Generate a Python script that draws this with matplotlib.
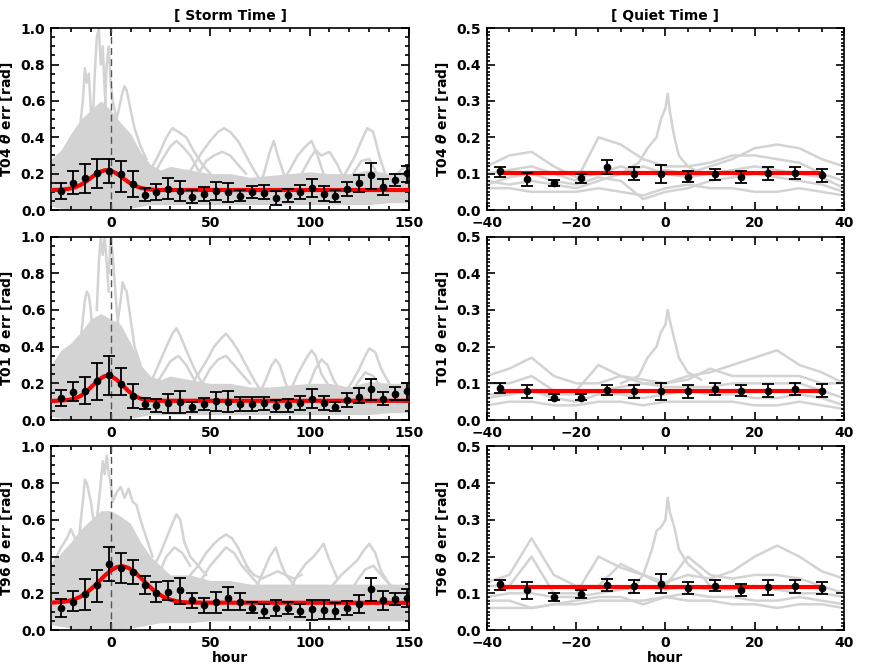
import matplotlib
matplotlib.use("Agg")
import matplotlib.pyplot
import matplotlib.ticker
import numpy

# ---- storm time (hours from storm onset) ----
storm_x = [-25, -19, -13, -7, -1, 5, 11, 17, 23, 29, 35, 41, 47, 53, 59,
           65, 71, 77, 83, 89, 95, 101, 107, 113, 119, 125, 131, 137, 143, 149]

storm_t04 = [0.106, 0.150, 0.178, 0.204, 0.217, 0.196, 0.145, 0.084, 0.101, 0.117,
             0.106, 0.073, 0.090, 0.105, 0.099, 0.079, 0.097, 0.095, 0.068, 0.081,
             0.099, 0.121, 0.090, 0.079, 0.116, 0.147, 0.193, 0.125, 0.165, 0.202]
storm_t04_lo = [0.061, 0.088, 0.095, 0.123, 0.150, 0.101, 0.072, 0.050, 0.057, 0.062,
                0.050, 0.040, 0.050, 0.053, 0.046, 0.048, 0.064, 0.059, 0.029, 0.044,
                0.062, 0.073, 0.048, 0.044, 0.075, 0.101, 0.114, 0.083, 0.134, 0.154]
storm_t04_hi = [0.150, 0.213, 0.253, 0.283, 0.279, 0.272, 0.215, 0.119, 0.143, 0.174,
                0.161, 0.108, 0.128, 0.156, 0.150, 0.112, 0.130, 0.136, 0.106, 0.114,
                0.138, 0.172, 0.134, 0.112, 0.156, 0.193, 0.257, 0.172, 0.196, 0.244]

storm_t01 = [0.122, 0.153, 0.159, 0.212, 0.243, 0.197, 0.133, 0.088, 0.080, 0.091,
             0.099, 0.069, 0.086, 0.102, 0.100, 0.089, 0.088, 0.091, 0.078, 0.080,
             0.093, 0.117, 0.093, 0.073, 0.111, 0.128, 0.168, 0.115, 0.142, 0.157]
storm_t01_lo = [0.078, 0.102, 0.086, 0.108, 0.139, 0.139, 0.068, 0.058, 0.046, 0.036,
                0.040, 0.044, 0.055, 0.051, 0.042, 0.051, 0.049, 0.055, 0.042, 0.044,
                0.055, 0.064, 0.053, 0.047, 0.073, 0.091, 0.109, 0.080, 0.109, 0.109]
storm_t01_hi = [0.166, 0.210, 0.232, 0.312, 0.347, 0.286, 0.195, 0.119, 0.117, 0.144,
                0.157, 0.100, 0.119, 0.151, 0.157, 0.128, 0.124, 0.128, 0.111, 0.115,
                0.133, 0.168, 0.133, 0.100, 0.150, 0.173, 0.224, 0.151, 0.182, 0.201]

storm_t96 = [0.119, 0.153, 0.195, 0.245, 0.358, 0.336, 0.316, 0.243, 0.204, 0.208,
             0.217, 0.161, 0.135, 0.151, 0.172, 0.155, 0.122, 0.104, 0.119, 0.120,
             0.106, 0.113, 0.111, 0.102, 0.120, 0.142, 0.223, 0.161, 0.168, 0.172]
storm_t96_lo = [0.069, 0.104, 0.109, 0.155, 0.265, 0.254, 0.250, 0.195, 0.150, 0.161,
                0.144, 0.119, 0.095, 0.095, 0.109, 0.108, 0.095, 0.068, 0.075, 0.088,
                0.071, 0.057, 0.058, 0.060, 0.084, 0.093, 0.159, 0.108, 0.137, 0.128]
storm_t96_hi = [0.168, 0.215, 0.279, 0.327, 0.453, 0.420, 0.383, 0.292, 0.259, 0.268,
                0.283, 0.201, 0.177, 0.208, 0.234, 0.201, 0.155, 0.142, 0.166, 0.150,
                0.142, 0.166, 0.162, 0.146, 0.157, 0.192, 0.286, 0.215, 0.203, 0.224]

# red fitted curves
storm_fit_x = [-30, -27, -24, -21, -18, -15, -12, -9, -6, -3, 0, 3, 6, 9, 12,
               15, 18, 21, 24, 27, 30, 33, 36, 40, 150]
storm_fit_t04 = [0.110, 0.111, 0.113, 0.117, 0.125, 0.139, 0.160, 0.185, 0.207, 0.219,
                 0.217, 0.201, 0.177, 0.153, 0.134, 0.122, 0.115, 0.112, 0.110, 0.110,
                 0.110, 0.110, 0.110, 0.110, 0.110]
storm_fit_t01 = [0.105, 0.105, 0.107, 0.110, 0.117, 0.132, 0.157, 0.189, 0.220, 0.240,
                 0.240, 0.220, 0.189, 0.157, 0.132, 0.117, 0.110, 0.107, 0.105, 0.105,
                 0.105, 0.105, 0.105, 0.105, 0.105]
storm_fit_t96 = [0.149, 0.151, 0.153, 0.159, 0.168, 0.183, 0.204, 0.232, 0.264, 0.296,
                 0.324, 0.343, 0.348, 0.338, 0.316, 0.286, 0.253, 0.222, 0.197, 0.178,
                 0.165, 0.157, 0.152, 0.149, 0.148]

# dense grey region of the individual storm events
storm_band_x = [-30, -25, -20, -15, -10, -5, 0, 5, 10, 15, 20, 25, 30, 40, 50,
                60, 70, 80, 90, 100, 110, 120, 130, 140, 150]
storm_band_t04_lo = [0.02, 0.01, 0.0, 0.0, 0.0, 0.0, 0.0, 0.0, 0.01, 0.02, 0.03, 0.03, 0.03,
                     0.03, 0.03, 0.03, 0.03, 0.03, 0.03, 0.03, 0.03, 0.03, 0.03, 0.04, 0.04]
storm_band_t04_hi = [0.28, 0.33, 0.42, 0.5, 0.55, 0.6, 0.55, 0.48, 0.42, 0.32, 0.25, 0.22, 0.24,
                     0.22, 0.2, 0.2, 0.18, 0.19, 0.2, 0.21, 0.2, 0.2, 0.22, 0.2, 0.22]
storm_band_t01_lo = [0.02, 0.01, 0.0, 0.0, 0.0, 0.0, 0.0, 0.0, 0.01, 0.02, 0.03, 0.03, 0.03,
                     0.03, 0.03, 0.03, 0.03, 0.03, 0.03, 0.03, 0.03, 0.03, 0.03, 0.04, 0.04]
storm_band_t01_hi = [0.3, 0.38, 0.42, 0.48, 0.55, 0.58, 0.55, 0.52, 0.42, 0.3, 0.24, 0.22, 0.24,
                     0.22, 0.2, 0.2, 0.18, 0.18, 0.19, 0.2, 0.2, 0.18, 0.21, 0.2, 0.2]
storm_band_t96_lo = [0.03, 0.02, 0.01, 0.0, 0.0, 0.0, 0.0, 0.0, 0.01, 0.02, 0.03, 0.04, 0.04,
                     0.04, 0.05, 0.05, 0.05, 0.05, 0.05, 0.05, 0.05, 0.05, 0.05, 0.05, 0.05]
storm_band_t96_hi = [0.35, 0.42, 0.48, 0.55, 0.6, 0.65, 0.65, 0.62, 0.58, 0.48, 0.4, 0.35, 0.3,
                     0.3, 0.27, 0.27, 0.25, 0.25, 0.25, 0.25, 0.25, 0.25, 0.25, 0.25, 0.25]

# individual storm event traces standing out of the grey cloud
storm_traces_t04 = [
    ([-16, -14, -13, -12, -11, -10, -9], [0.4, 0.6, 0.78, 0.7, 0.75, 0.55, 0.45]),
    ([-9, -8, -7, -6, -5, -4, -3, -2], [0.5, 0.75, 0.95, 1.0, 0.8, 0.9, 0.65, 0.5]),
    ([-3, -2, -1, 0, 1, 2, 3], [0.55, 0.8, 0.9, 0.7, 0.6, 0.55, 0.5]),
    ([2, 4, 6, 7, 8, 10, 12, 15, 18], [0.45, 0.55, 0.65, 0.68, 0.66, 0.55, 0.45, 0.35, 0.28]),
    ([20, 24, 28, 31, 34, 38, 42, 46, 50], [0.22, 0.3, 0.4, 0.45, 0.43, 0.4, 0.32, 0.25, 0.2]),
    ([22, 26, 30, 33, 36, 40, 44], [0.2, 0.28, 0.35, 0.38, 0.35, 0.3, 0.22]),
    ([38, 42, 46, 50, 54, 57, 60, 64, 68, 72, 76], [0.18, 0.25, 0.32, 0.38, 0.43, 0.45, 0.43, 0.38, 0.3, 0.22, 0.15]),
    ([44, 48, 52, 56, 60, 64, 68], [0.2, 0.27, 0.3, 0.32, 0.3, 0.25, 0.2]),
    ([74, 77, 80, 82, 84, 87, 90], [0.1, 0.2, 0.32, 0.38, 0.3, 0.2, 0.12]),
    ([86, 90, 94, 98, 101, 104, 107], [0.15, 0.22, 0.3, 0.35, 0.38, 0.3, 0.2]),
    ([92, 96, 100, 103, 106, 110, 114, 118], [0.12, 0.2, 0.28, 0.33, 0.3, 0.32, 0.25, 0.15]),
    ([115, 119, 123, 126, 129, 132, 135, 138], [0.15, 0.22, 0.3, 0.38, 0.45, 0.43, 0.3, 0.2]),
    ([118, 122, 126, 130, 134, 138, 142, 146, 150], [0.12, 0.2, 0.27, 0.28, 0.2, 0.15, 0.18, 0.22, 0.25]),
]
storm_traces_t01 = [
    ([-15, -13, -12, -11, -10, -9], [0.45, 0.65, 0.7, 0.68, 0.6, 0.45]),
    ([-7, -6, -5, -4, -3, -2, -1], [0.6, 0.85, 1.0, 0.9, 1.0, 0.85, 0.7]),
    ([-1, 0, 1, 2, 3, 4], [0.8, 1.0, 0.9, 0.75, 0.6, 0.5]),
    ([3, 5, 6, 7, 8, 10, 12, 15], [0.5, 0.65, 0.75, 0.72, 0.7, 0.55, 0.4, 0.3]),
    ([20, 24, 28, 31, 33, 35, 38, 42, 46], [0.2, 0.3, 0.4, 0.47, 0.5, 0.46, 0.38, 0.28, 0.2]),
    ([22, 26, 30, 34, 38, 42], [0.18, 0.25, 0.32, 0.35, 0.3, 0.22]),
    ([40, 44, 48, 52, 56, 58, 61, 64, 68, 72, 76], [0.18, 0.25, 0.32, 0.4, 0.45, 0.47, 0.43, 0.38, 0.3, 0.22, 0.15]),
    ([46, 50, 54, 58, 62, 66, 70], [0.2, 0.28, 0.33, 0.35, 0.3, 0.25, 0.2]),
    ([74, 78, 81, 83, 85, 88, 92], [0.12, 0.22, 0.3, 0.33, 0.3, 0.2, 0.12]),
    ([90, 94, 98, 101, 103, 106, 110], [0.15, 0.25, 0.33, 0.38, 0.35, 0.25, 0.18]),
    ([100, 103, 106, 109, 112, 116], [0.2, 0.28, 0.33, 0.3, 0.22, 0.15]),
    ([118, 122, 125, 128, 130, 133, 136, 140], [0.15, 0.22, 0.28, 0.35, 0.39, 0.37, 0.28, 0.2]),
    ([120, 124, 128, 132, 136, 140, 145, 150], [0.12, 0.2, 0.26, 0.24, 0.18, 0.15, 0.18, 0.2]),
]
storm_traces_t96 = [
    ([-30, -28, -25, -22, -20, -18, -16], [0.33, 0.38, 0.45, 0.5, 0.55, 0.5, 0.45]),
    ([-16, -14, -13, -12, -11, -10, -8], [0.5, 0.7, 0.82, 0.8, 0.75, 0.7, 0.55]),
    ([-7, -5, -4, -3, -2, -1, 0, 1], [0.6, 0.8, 0.92, 0.85, 0.95, 0.85, 0.8, 0.7]),
    ([1, 3, 5, 7, 9, 11, 13, 15, 18, 21], [0.7, 0.75, 0.78, 0.72, 0.77, 0.7, 0.68, 0.6, 0.5, 0.4]),
    ([22, 25, 28, 31, 33, 35, 37, 40, 44, 48], [0.35, 0.42, 0.5, 0.58, 0.63, 0.6, 0.48, 0.4, 0.35, 0.3]),
    ([24, 28, 32, 36, 40], [0.3, 0.4, 0.45, 0.42, 0.35]),
    ([40, 44, 48, 52, 55, 58, 61, 64, 67, 70], [0.3, 0.35, 0.42, 0.47, 0.5, 0.52, 0.5, 0.45, 0.38, 0.32]),
    ([46, 50, 54, 58, 62, 66, 70, 74], [0.28, 0.35, 0.4, 0.45, 0.42, 0.35, 0.3, 0.25]),
    ([68, 72, 76, 80, 84, 88, 92, 96], [0.35, 0.3, 0.28, 0.3, 0.32, 0.3, 0.28, 0.3]),
    ([72, 76, 80, 83, 85, 88, 92], [0.2, 0.3, 0.4, 0.45, 0.38, 0.3, 0.25]),
    ([90, 94, 98, 102, 105, 107, 110, 114], [0.22, 0.3, 0.36, 0.4, 0.44, 0.47, 0.38, 0.28]),
    ([112, 116, 120, 124, 127, 130, 133, 136, 140], [0.25, 0.3, 0.34, 0.38, 0.43, 0.47, 0.42, 0.32, 0.25]),
    ([120, 124, 128, 132, 136, 140, 145, 150], [0.2, 0.27, 0.33, 0.35, 0.3, 0.25, 0.22, 0.25]),
]

# ---- quiet time ----
quiet_x = [-37, -31, -25, -19, -13, -7, -1, 5, 11, 17, 23, 29, 35]

quiet_t04 = [0.106, 0.084, 0.075, 0.087, 0.118, 0.100, 0.099, 0.092, 0.098, 0.092, 0.101, 0.103, 0.096]
quiet_t04_lo = [0.091, 0.067, 0.067, 0.075, 0.100, 0.083, 0.074, 0.076, 0.083, 0.074, 0.083, 0.086, 0.078]
quiet_t04_hi = [0.117, 0.101, 0.083, 0.100, 0.137, 0.117, 0.123, 0.106, 0.113, 0.106, 0.118, 0.118, 0.114]

quiet_t01 = [0.088, 0.078, 0.061, 0.061, 0.081, 0.078, 0.079, 0.078, 0.085, 0.080, 0.080, 0.085, 0.080]
quiet_t01_lo = [0.075, 0.061, 0.054, 0.054, 0.067, 0.061, 0.054, 0.061, 0.069, 0.065, 0.062, 0.068, 0.062]
quiet_t01_hi = [0.100, 0.095, 0.070, 0.070, 0.096, 0.095, 0.101, 0.096, 0.102, 0.095, 0.099, 0.102, 0.098]

quiet_t96 = [0.124, 0.108, 0.090, 0.098, 0.122, 0.119, 0.126, 0.115, 0.121, 0.108, 0.116, 0.119, 0.115]
quiet_t96_lo = [0.110, 0.084, 0.080, 0.087, 0.106, 0.102, 0.101, 0.098, 0.107, 0.093, 0.096, 0.102, 0.097]
quiet_t96_hi = [0.136, 0.131, 0.102, 0.108, 0.138, 0.137, 0.152, 0.132, 0.136, 0.126, 0.136, 0.137, 0.131]

quiet_fit_x = [-37, 35]
quiet_fit_t04 = [0.103, 0.103]
quiet_fit_t01 = [0.079, 0.079]
quiet_fit_t96 = [0.116, 0.116]

quiet_trace_x = [-40, -35, -30, -25, -20, -15, -10, -5, 0, 5, 10, 15, 20, 25, 30, 35, 40]
quiet_traces_t04 = [
    [0.12, 0.15, 0.16, 0.12, 0.09, 0.10, 0.12, 0.10, 0.11, 0.10, 0.12, 0.14, 0.17, 0.18, 0.17, 0.14, 0.12],
    [0.10, 0.11, 0.12, 0.10, 0.08, 0.20, 0.18, 0.14, 0.12, 0.12, 0.13, 0.15, 0.15, 0.14, 0.13, 0.10, 0.08],
    [0.08, 0.07, 0.08, 0.07, 0.06, 0.08, 0.10, 0.12, 0.10, 0.09, 0.10, 0.11, 0.12, 0.11, 0.10, 0.09, 0.06],
    [0.06, 0.06, 0.05, 0.05, 0.05, 0.06, 0.05, 0.04, 0.06, 0.07, 0.06, 0.06, 0.05, 0.05, 0.06, 0.05, 0.04],
    [0.07, 0.09, 0.10, 0.08, 0.07, 0.09, 0.08, 0.03, 0.05, 0.06, 0.08, 0.09, 0.10, 0.09, 0.08, 0.07, 0.05],
]
quiet_traces_t01 = [
    [0.12, 0.14, 0.17, 0.12, 0.10, 0.10, 0.12, 0.11, 0.10, 0.12, 0.13, 0.15, 0.17, 0.19, 0.15, 0.13, 0.10],
    [0.10, 0.10, 0.12, 0.08, 0.08, 0.15, 0.12, 0.10, 0.10, 0.11, 0.14, 0.12, 0.12, 0.12, 0.12, 0.10, 0.10],
    [0.07, 0.07, 0.08, 0.07, 0.07, 0.08, 0.09, 0.10, 0.09, 0.09, 0.09, 0.10, 0.10, 0.10, 0.10, 0.08, 0.06],
    [0.04, 0.05, 0.05, 0.04, 0.04, 0.05, 0.05, 0.04, 0.05, 0.05, 0.05, 0.05, 0.04, 0.04, 0.05, 0.04, 0.03],
    [0.06, 0.07, 0.08, 0.06, 0.05, 0.07, 0.07, 0.06, 0.07, 0.08, 0.07, 0.07, 0.06, 0.06, 0.07, 0.06, 0.04],
]
quiet_traces_t96 = [
    [0.13, 0.15, 0.25, 0.15, 0.12, 0.12, 0.18, 0.15, 0.13, 0.15, 0.14, 0.16, 0.20, 0.23, 0.20, 0.16, 0.14],
    [0.12, 0.12, 0.20, 0.10, 0.10, 0.20, 0.17, 0.15, 0.12, 0.20, 0.15, 0.14, 0.15, 0.15, 0.14, 0.12, 0.10],
    [0.09, 0.10, 0.10, 0.09, 0.09, 0.10, 0.11, 0.12, 0.11, 0.12, 0.11, 0.11, 0.12, 0.11, 0.10, 0.10, 0.09],
    [0.06, 0.06, 0.06, 0.07, 0.07, 0.08, 0.08, 0.08, 0.09, 0.08, 0.08, 0.07, 0.07, 0.06, 0.07, 0.07, 0.06],
    [0.08, 0.08, 0.06, 0.07, 0.08, 0.09, 0.09, 0.07, 0.09, 0.10, 0.09, 0.09, 0.08, 0.08, 0.09, 0.08, 0.07],
]
quiet_spike_t04 = ([-10, -6, -4, -2, -1, 0, 0.5, 1, 2, 3, 5, 8],
                   [0.10, 0.13, 0.17, 0.20, 0.25, 0.28, 0.32, 0.27, 0.20, 0.15, 0.12, 0.10])
quiet_spike_t01 = ([-10, -6, -4, -2, -1, 0, 0.5, 1, 2, 3, 5, 8],
                   [0.10, 0.12, 0.17, 0.20, 0.24, 0.26, 0.30, 0.27, 0.22, 0.17, 0.13, 0.11])
quiet_spike_t96 = ([-8, -5, -3, -2, -1, 0, 0.5, 1, 2, 3, 5, 8, 10],
                   [0.10, 0.15, 0.22, 0.27, 0.28, 0.30, 0.36, 0.32, 0.28, 0.22, 0.18, 0.15, 0.12])

models = ["T04", "T01", "T96"]

GREY = "#d3d3d3"


def style_axes(plot, x_major, x_minor, y_major, y_minor):
    plot.xaxis.set_major_locator(matplotlib.ticker.MultipleLocator(x_major))
    plot.xaxis.set_minor_locator(matplotlib.ticker.MultipleLocator(x_minor))
    plot.yaxis.set_major_locator(matplotlib.ticker.MultipleLocator(y_major))
    plot.yaxis.set_minor_locator(matplotlib.ticker.MultipleLocator(y_minor))
    plot.tick_params(which="both", direction="in", top=True, right=True, width=1.2, labelsize=10, pad=4)
    plot.tick_params(which="major", length=6)
    plot.tick_params(which="minor", length=3)
    for spine in plot.spines.values():
        spine.set_linewidth(1.2)


def draw_points(plot, x, y, lo, hi):
    y = numpy.array(y)
    yerr = [y - numpy.array(lo), numpy.array(hi) - y]
    plot.errorbar(x, y, yerr=yerr, fmt="o", color="black", markersize=4.5,
                  elinewidth=1.3, capsize=4.5, capthick=1.3, zorder=5)


def main():
    matplotlib.pyplot.rcParams["font.family"] = "DejaVu Sans"
    matplotlib.pyplot.rcParams["font.weight"] = "bold"
    matplotlib.pyplot.rcParams["axes.labelweight"] = "bold"

    figure = matplotlib.pyplot.figure(figsize=(8.71, 6.71), dpi=100)
    rows = [(0.687, 0.271), (0.374, 0.2735), (0.0611, 0.2735)]

    storm_data = [
        (storm_t04, storm_t04_lo, storm_t04_hi, storm_fit_t04,
         storm_band_t04_lo, storm_band_t04_hi, storm_traces_t04),
        (storm_t01, storm_t01_lo, storm_t01_hi, storm_fit_t01,
         storm_band_t01_lo, storm_band_t01_hi, storm_traces_t01),
        (storm_t96, storm_t96_lo, storm_t96_hi, storm_fit_t96,
         storm_band_t96_lo, storm_band_t96_hi, storm_traces_t96),
    ]
    quiet_data = [
        (quiet_t04, quiet_t04_lo, quiet_t04_hi, quiet_fit_t04, quiet_traces_t04, quiet_spike_t04),
        (quiet_t01, quiet_t01_lo, quiet_t01_hi, quiet_fit_t01, quiet_traces_t01, quiet_spike_t01),
        (quiet_t96, quiet_t96_lo, quiet_t96_hi, quiet_fit_t96, quiet_traces_t96, quiet_spike_t96),
    ]

    for i, (model, (bottom, height)) in enumerate(zip(models, rows)):
        label = model + r" $\theta$ err [rad]"

        # storm time panel
        y, lo, hi, fit, band_lo, band_hi, traces = storm_data[i]
        plot = figure.add_axes([0.0586, bottom, 0.411, height])
        plot.fill_between(storm_band_x, band_lo, band_hi, color=GREY, lw=0, zorder=1)
        for tx, ty in traces:
            plot.plot(tx, ty, color=GREY, lw=1.8, zorder=1)
        plot.axvline(0, color="#555555", lw=1, dashes=(5, 3), zorder=2)
        plot.plot(storm_fit_x, fit, color="red", lw=3, zorder=3)
        draw_points(plot, storm_x, y, lo, hi)
        plot.set(xlim=(-30, 150), ylim=(0, 1.0))
        style_axes(plot, 50, 10, 0.2, 0.05)
        plot.set_ylabel(label, fontsize=10, labelpad=4)
        if i == 0:
            plot.set_title("[ Storm Time ]", fontsize=10, fontweight="bold", pad=6)
        if i == 2:
            plot.set_xlabel("hour", fontsize=10, labelpad=1)

        # quiet time panel
        y, lo, hi, fit, traces, spike = quiet_data[i]
        plot = figure.add_axes([0.559, bottom, 0.410, height])
        for ty in traces:
            plot.plot(quiet_trace_x, ty, color=GREY, lw=1.8, zorder=1)
        plot.plot(spike[0], spike[1], color=GREY, lw=1.8, zorder=1)
        plot.plot(quiet_fit_x, fit, color="red", lw=3, zorder=3)
        draw_points(plot, quiet_x, y, lo, hi)
        plot.set(xlim=(-40, 40), ylim=(0, 0.5))
        style_axes(plot, 20, 5, 0.1, 0.01)
        plot.tick_params(axis="y", which="minor", length=2.5)
        plot.set_ylabel(label, fontsize=10, labelpad=4)
        if i == 0:
            plot.set_title("[ Quiet Time ]", fontsize=10, fontweight="bold", pad=6)
        if i == 2:
            plot.set_xlabel("hour", fontsize=10, labelpad=1)

    figure.savefig("out.png", dpi=100)


if __name__ == "__main__":
    main()
